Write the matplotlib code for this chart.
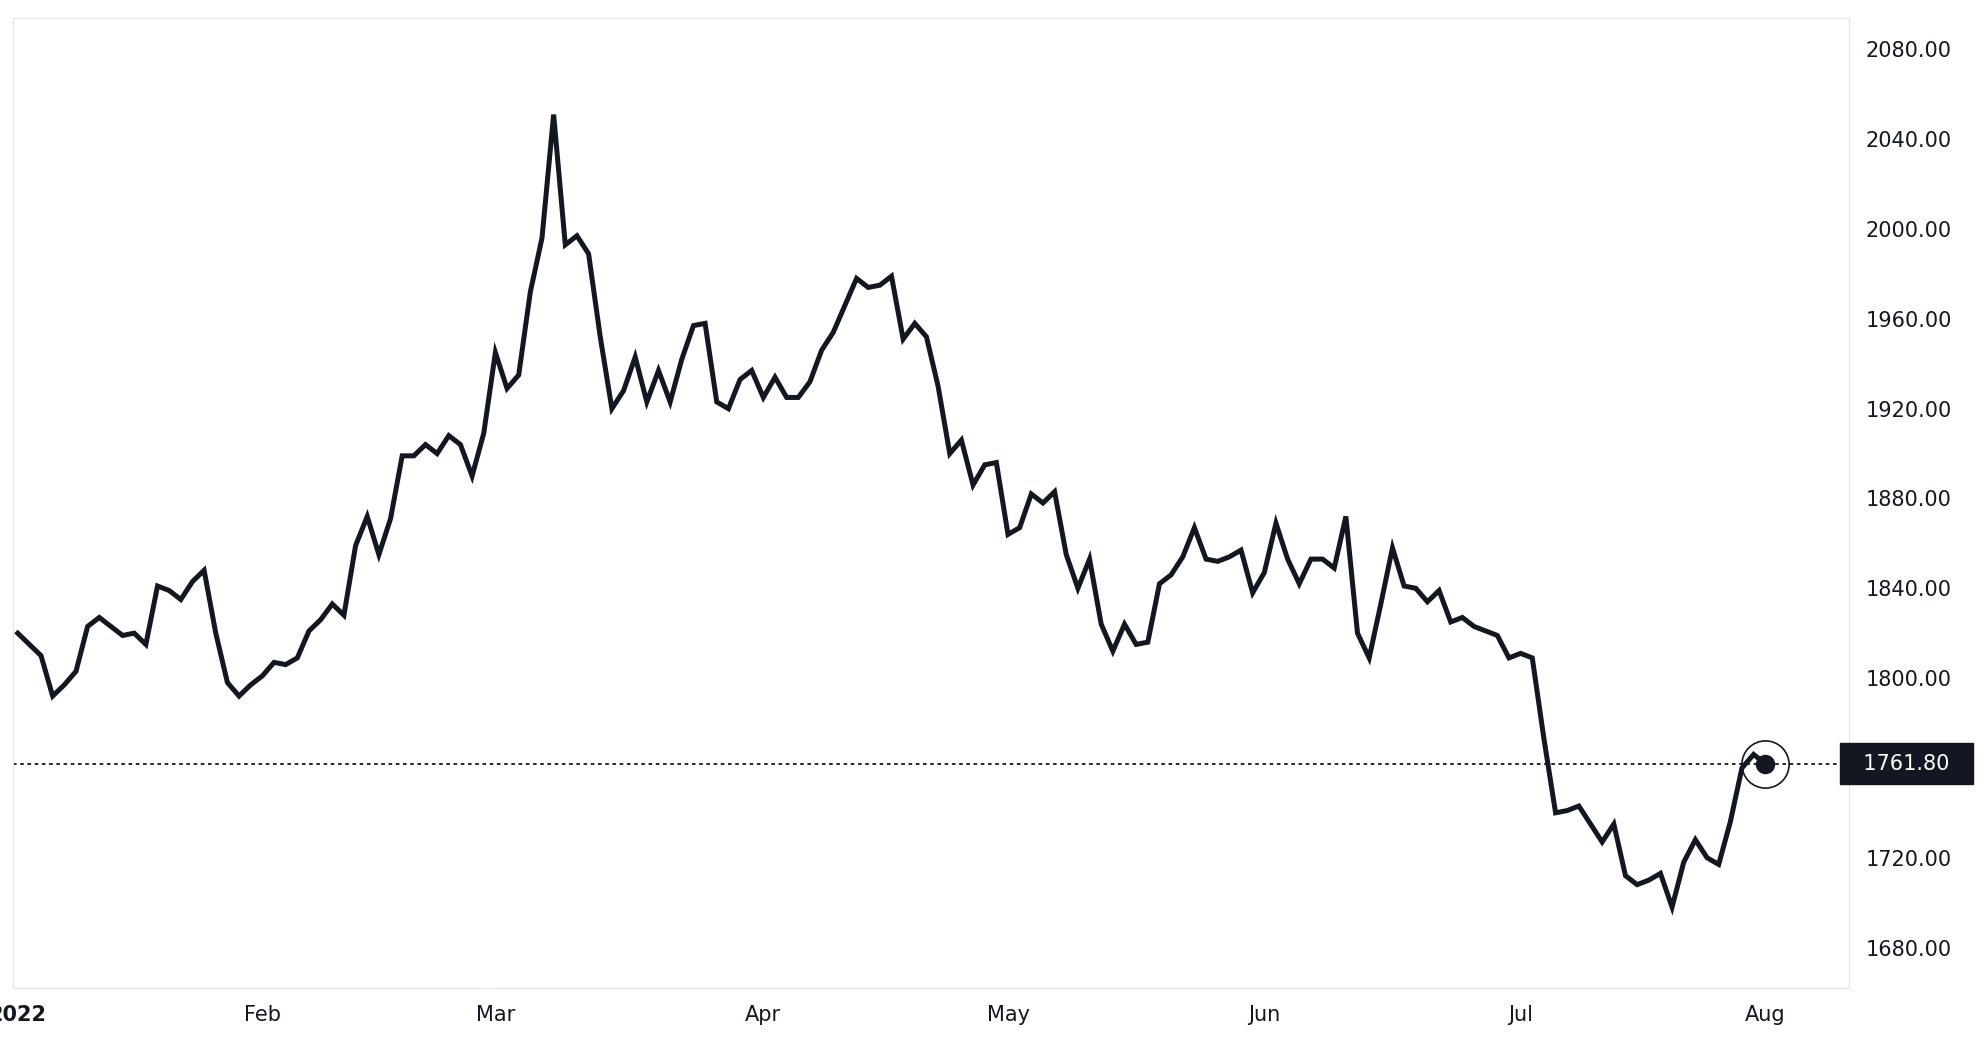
import pandas as pd
import matplotlib.pyplot as plt

prices = [1820, 1815, 1810, 1792, 1797, 1803, 1823, 1827, 1823, 1819, 1820, 1815, 1841, 1839, 1835, 1843,
          1848, 1820, 1798, 1792, 1797, 1801, 1807, 1806, 1809, 1821, 1826, 1833, 1828, 1859, 1872, 1855,
          1871, 1899, 1899, 1904, 1900, 1908, 1904, 1890, 1909, 1945, 1929, 1935, 1972, 1996, 2051, 1993,
          1997, 1989, 1952, 1920, 1928, 1943, 1923, 1937, 1923, 1942, 1957, 1958, 1923, 1920, 1933, 1937,
          1925, 1934, 1925, 1925, 1932, 1946, 1954, 1966, 1978, 1974, 1975, 1979, 1951, 1958, 1952, 1930,
          1900, 1906, 1886, 1895, 1896, 1864, 1867, 1882, 1878, 1883, 1855, 1840, 1853, 1824, 1812, 1824,
          1815, 1816, 1842, 1846, 1854, 1867, 1853, 1852, 1854, 1857, 1838, 1847, 1869, 1853, 1842, 1853,
          1853, 1849, 1872, 1820, 1809, 1833, 1858, 1841, 1840, 1834, 1839, 1825, 1827, 1823, 1821, 1819,
          1809, 1811, 1809, 1773, 1740, 1741, 1743, 1735, 1727, 1735, 1712, 1708, 1710, 1713, 1698, 1718,
          1728, 1720, 1717, 1736, 1760, 1766, 1761.8]
tick_labels = ["2022", "Feb", "Mar", "Apr", "May", "Jun", "Jul", "Aug"]
last_price = 1761.8

dates = pd.bdate_range(end="2022-08-01", periods=len(prices))
x = list(range(len(prices)))
tick_pos = []
for m in range(1, 9):
    first = [i for i, d in enumerate(dates) if d.month == m][0]
    tick_pos.append(first)

fig = plt.figure(figsize=(19.86, 10.6), dpi=100)
ax = fig.add_axes([0.0064, 0.068, 0.9247, 0.915])
line_color = "#131722"
ax.plot(x, prices, color=line_color, lw=3.6, solid_joinstyle="miter")
ax.axhline(last_price, color=line_color, lw=1.3, ls=(0, (2, 2)))
ax.plot(x[-1], prices[-1], "o", color=line_color, ms=13)
ax.plot(x[-1], prices[-1], "o", mfc="none", mec=line_color, ms=34, mew=1.2)

ax.set_xlim(len(prices) - 151 - 0.43, len(prices) - 151 + 157.2)
ax.set_ylim(1662, 2094)
ax.set_xticks(tick_pos)
ax.set_xticklabels(tick_labels)
ax.get_xticklabels()[0].set_fontweight("bold")
ax.set_yticks(range(1680, 2081, 40))
ax.set_yticklabels([f"{v:.2f}" for v in range(1680, 2081, 40)])
ax.yaxis.tick_right()
ax.tick_params(length=0, labelsize=15, colors=line_color, pad=12)
for s in ax.spines.values():
    s.set_color("#e0e3eb")
ax.text(1.0005, last_price, f"  {last_price:.2f}  ", transform=ax.get_yaxis_transform(),
        ha="left", va="center", fontsize=15, color="white",
        bbox=dict(boxstyle="square,pad=0.5", fc=line_color, ec=line_color))
fig.savefig("out.png", dpi=100, facecolor="white")
